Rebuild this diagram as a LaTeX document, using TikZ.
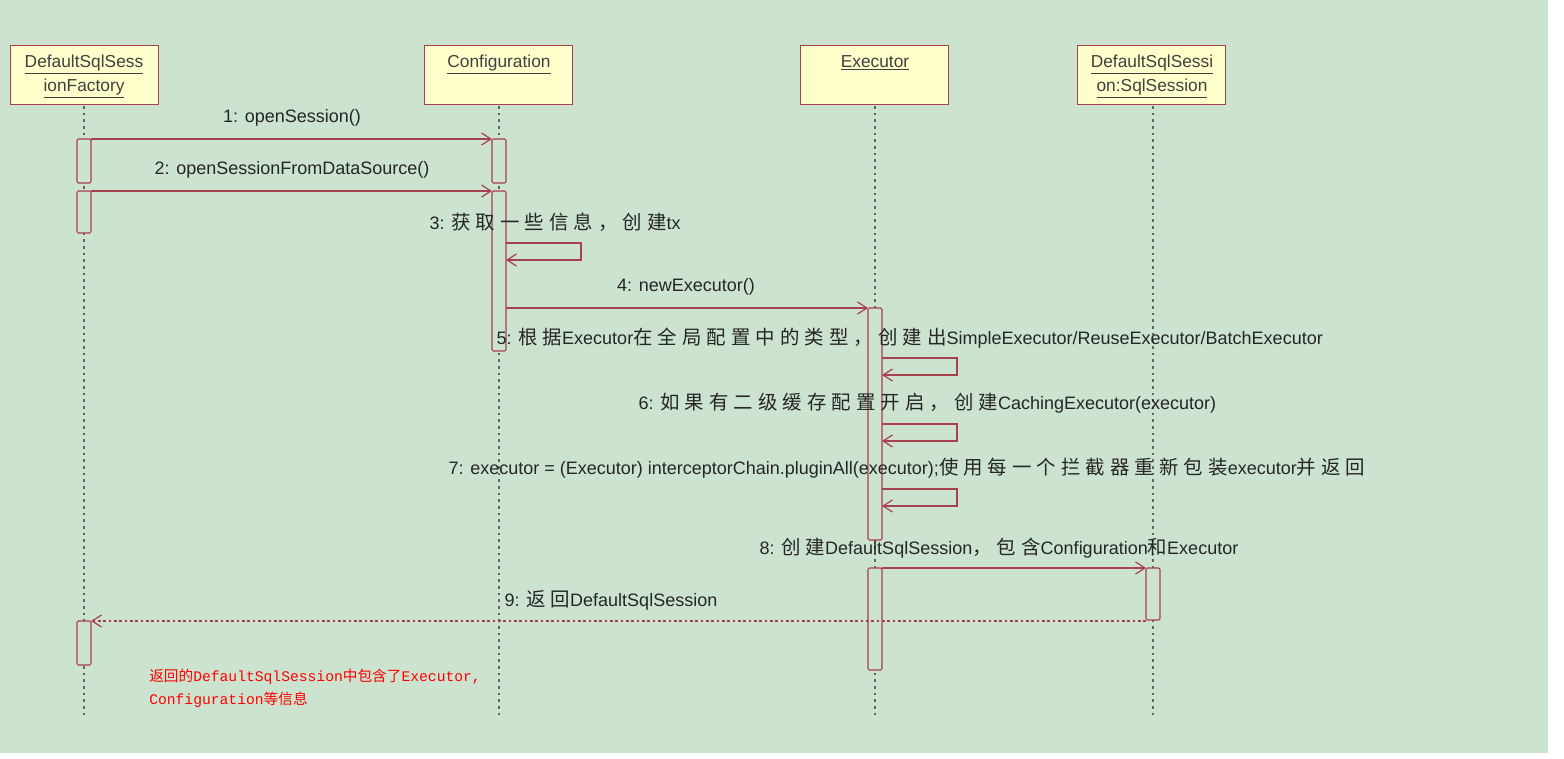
\documentclass[tikz,border=0pt]{standalone}
\usepackage{fontspec}
\setmainfont{Liberation Sans}
\setmonofont{Liberation Mono}
\newfontfamily\cjk[Scale=1.08,LetterSpace=26]{Noto Sans CJK SC}
\newfontfamily\cjkn{Noto Sans CJK SC}
\newcommand{\zh}[1]{{\cjk #1}}
\usetikzlibrary{arrows.meta}
\definecolor{bg}{HTML}{CCE3CF}
\definecolor{ln}{HTML}{A8404E}
\definecolor{hd}{HTML}{FFFFCC}
\begin{document}
\begin{tikzpicture}[x=0.75pt,y=-0.75pt,
  hdr/.style={draw=ln,fill=hd,line width=0.9pt,minimum width=111pt,minimum height=44pt,anchor=north west,inner sep=0pt},
  htxt/.style={anchor=north,align=center,inner sep=0pt,font=\fontsize{13}{18}\selectfont,text=black!75},
  act/.style={draw=ln,fill=bg,line width=0.8pt,rounded corners=1pt},
  life/.style={black!60,line width=1pt,dash pattern=on 2pt off 3pt},
  msg/.style={ln,line width=0.9pt,-{Straight Barb[length=7pt,width=9pt]}},
  ret/.style={ln,line width=0.9pt,dash pattern=on 2pt off 2pt,-{Straight Barb[length=7pt,width=9pt]}},
  lbl/.style={font=\fontsize{13.5}{16}\selectfont,text=black!85,inner sep=1pt}]
\fill[white] (0,0) rectangle (1564,759);
\fill[bg] (0,0) rectangle (1548,753);
% lifelines
\foreach \x in {84,499,875,1153}{
  \draw[life] (\x,106) -- (\x,718);}
% headers
\node[hdr] (A) at (10,45) {};
\node[hdr] (B) at (424,45) {};
\node[hdr] (C) at (800,45) {};
\node[hdr] (D) at (1077,45) {};
\node[htxt] (At) at (84,55) {\underline{DefaultSqlSess}\\\underline{ionFactory}};
\node[htxt] (Bt) at (499,55) {\underline{Configuration}};
\node[htxt] (Ct) at (875,55) {\underline{Executor}};
\node[htxt] (Dt) at (1152,55) {\underline{DefaultSqlSessi}\\\underline{on:SqlSession}};
% activations
\draw[act] (77,139) rectangle (91,183);
\draw[act] (77,191) rectangle (91,233);
\draw[act] (77,621) rectangle (91,665);
\draw[act] (492,139) rectangle (506,183);
\draw[act] (492,191) rectangle (506,351);
\draw[act] (868,308) rectangle (882,540);
\draw[act] (868,568) rectangle (882,670);
\draw[act] (1146,568) rectangle (1160,620);
% endpoints
\coordinate (a1) at (91,139); \coordinate (b1) at (492,139);
\coordinate (a2) at (91,191); \coordinate (b2) at (492,191);
\coordinate (b4) at (506,308); \coordinate (c4) at (868,308);
\coordinate (c8) at (882,568); \coordinate (d8) at (1146,568);
\coordinate (d9) at (1146,621); \coordinate (a9) at (91,621);
\draw[msg] (a1) -- (b1);
\draw[msg] (a2) -- (b2);
\draw[msg] (506,243) -- (581,243) -- (581,260) -- (506,260);
\draw[msg] (b4) -- (c4);
\foreach \y in {358,424,489}{
  \draw[msg] (882,\y) -- (957,\y) -- (957,\y+17) -- (882,\y+17);}
\draw[msg] (c8) -- (d8);
\draw[ret] (d9) -- (a9);
% labels
\node[lbl] (l1) at (292,118) {1: openSession()};
\node[lbl] (l2) at (292,170) {2: openSessionFromDataSource()};
\node[lbl,anchor=west] (l3) at (428,222) {3: \zh{获取一些信息，创建}tx};
\node[lbl] (l4) at (686,287) {4: newExecutor()};
\node[lbl,anchor=west] (l5) at (495,338) {5: \zh{根据}Executor\zh{在全局配置中的类型，创建出}SimpleExecutor/ReuseExecutor/BatchExecutor};
\node[lbl,anchor=west] (l6) at (637,403) {6: \zh{如果有二级缓存配置开启，创建}CachingExecutor(executor)};
\node[lbl,anchor=west] (l7) at (447,468) {7: executor = (Executor) interceptorChain.pluginAll(executor);\zh{使用每一个拦截器重新包装}executor\zh{并返回}};
\node[lbl,anchor=west] (l8) at (758,548) {8: \zh{创建}DefaultSqlSession\zh{，包含}Configuration\zh{和}Executor};
\node[lbl,anchor=west] (l9) at (503,600) {9: \zh{返回}DefaultSqlSession};
\node[anchor=north west,align=left,text=red,inner sep=0pt,font=\fontsize{11}{17}\selectfont] (note) at (149,669) {{\cjkn 返回的}\texttt{DefaultSqlSession}{\cjkn 中包含了}\texttt{Executor,}\\\texttt{Configuration}{\cjkn 等信息}};
\end{tikzpicture}
\end{document}
